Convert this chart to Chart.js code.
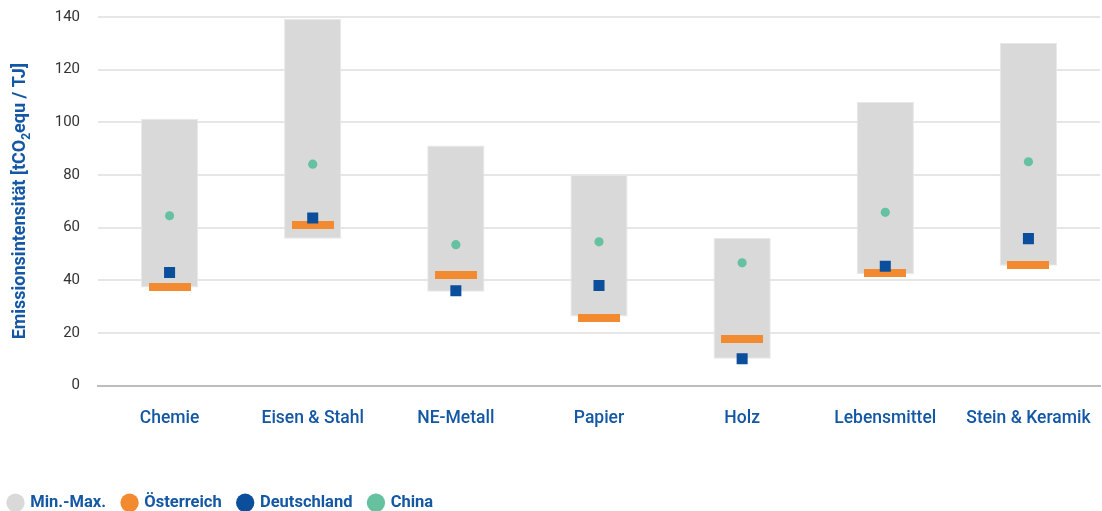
<!DOCTYPE html>
<html lang="de">
<head>
<meta charset="utf-8">
<title>Emissionsintensität</title>
<script src="https://cdn.jsdelivr.net/npm/chart.js@4/dist/chart.umd.min.js"></script>
<style>
    html, body { margin: 0; padding: 0; background: #fff; }
    #wrap { position: relative; width: 1102px; height: 511px; }
</style>
</head>
<body>
<div id="wrap"><canvas id="grafico"></canvas></div>
<script>
const kategorien = ['Chemie', 'Eisen & Stahl', 'NE-Metall', 'Papier', 'Holz', 'Lebensmittel', 'Stein & Keramik'];
const minWerte = [37.2, 55.8, 35.6, 26.2, 10.2, 42.4, 45.5];
const maxWerte = [101.3, 139.3, 91.2, 80.1, 56.1, 107.7, 130.1];
const oesterreich = [37.6, 60.8, 42.1, 25.8, 17.8, 42.6, 45.6];
const deutschland = [42.9, 63.6, 36.0, 38.0, 10.2, 45.3, 55.8];
const china = [64.5, 84.1, 53.5, 54.6, 46.6, 65.8, 85.0];

const farben = {
    minmax: '#D9D9D9',
    oesterreich: '#F28A30',
    deutschland: '#0B4F9C',
    china: '#66C1A0',
    text: '#1457A4'
};

const schrift = 'Roboto, "DejaVu Sans", sans-serif';

// Balken-Markierung für Österreich
const strich = document.createElement('canvas');
strich.width = 42;
strich.height = 8;
const sctx = strich.getContext('2d');
sctx.fillStyle = farben.oesterreich;
sctx.fillRect(0, 0, 42, 8);

// Achsentitel mit tiefgestellter 2
const achsenTitel = {
    id: 'achsenTitel',
    afterDraw(chart) {
        const ctx = chart.ctx;
        const y = chart.scales.y;
        const mitte = (y.top + y.bottom) / 2;
        const teile = [
            { t: 'Emissionsintensität [tCO', s: 18, dy: 0 },
            { t: '2', s: 12, dy: 5 },
            { t: 'equ / TJ]', s: 18, dy: 0 }
        ];
        ctx.save();
        ctx.translate(25, mitte);
        ctx.rotate(-Math.PI / 2);
        ctx.fillStyle = farben.text;
        ctx.textBaseline = 'alphabetic';
        let breite = 0;
        teile.forEach(p => {
            ctx.font = 'bold ' + p.s + 'px ' + schrift;
            breite += ctx.measureText(p.t).width;
        });
        let x = -breite / 2;
        teile.forEach(p => {
            ctx.font = 'bold ' + p.s + 'px ' + schrift;
            ctx.fillText(p.t, x, p.dy);
            x += ctx.measureText(p.t).width;
        });
        ctx.restore();
    }
};

const legendeFarben = [farben.minmax, farben.oesterreich, farben.deutschland, farben.china];

new Chart(document.getElementById('grafico'), {
    data: {
        labels: kategorien,
        datasets: [
            {
                type: 'scatter',
                label: 'China',
                data: china,
                backgroundColor: farben.china,
                borderWidth: 0,
                pointStyle: 'circle',
                pointRadius: 4.6,
                order: 1
            },
            {
                type: 'scatter',
                label: 'Deutschland',
                data: deutschland,
                backgroundColor: farben.deutschland,
                borderWidth: 0,
                pointStyle: 'rect',
                pointRadius: 7.8,
                order: 2
            },
            {
                type: 'scatter',
                label: 'Österreich',
                data: oesterreich,
                pointStyle: strich,
                order: 3
            },
            {
                type: 'bar',
                label: 'Min.-Max.',
                data: minWerte.map((v, i) => [v, maxWerte[i]]),
                backgroundColor: farben.minmax,
                borderColor: '#E8E8E8',
                borderWidth: 1,
                borderSkipped: false,
                categoryPercentage: 1,
                barPercentage: 0.4,
                order: 4
            }
        ]
    },
    options: {
        responsive: true,
        maintainAspectRatio: false,
        animation: false,
        layout: { autoPadding: false, padding: { left: -8, right: 2, top: 17, bottom: -10 } },
        plugins: {
            tooltip: { enabled: false },
            legend: {
                position: 'bottom',
                align: 'start',
                labels: {
                    usePointStyle: true,
                    boxWidth: 13,
                    boxHeight: 13,
                    padding: 17,
                    color: farben.text,
                    font: { family: schrift, size: 16.5, weight: 'bold' },
                    generateLabels: chart => ['Min.-Max.', 'Österreich', 'Deutschland', 'China'].map((t, i) => ({
                        text: t,
                        fillStyle: legendeFarben[i],
                        strokeStyle: legendeFarben[i],
                        lineWidth: 0,
                        pointStyle: 'circle',
                        fontColor: farben.text,
                        datasetIndex: 3 - i
                    }))
                }
            }
        },
        scales: {
            x: {
                type: 'category',
                offset: true,
                afterFit: s => {
                    s.height += 25;
                    s.paddingLeft = 0;
                    s.paddingRight = 0;
                },
                grid: { display: false, drawTicks: false },
                border: { color: '#BDBDBD', width: 2 },
                ticks: {
                    color: farben.text,
                    padding: 23,
                    font: { family: schrift, size: 17.5, weight: '500' }
                }
            },
            y: {
                min: 0,
                max: 140,
                afterFit: s => {
                    s.width = 106;
                    s.paddingTop = 0;
                    s.paddingBottom = 0;
                },
                grid: { color: '#E6E6E6', lineWidth: 2, drawTicks: false },
                border: { display: false },
                ticks: {
                    stepSize: 20,
                    padding: 18,
                    color: '#333333',
                    font: { family: schrift, size: 15 }
                }
            }
        }
    },
    plugins: [achsenTitel]
});
</script>
</body>
</html>
